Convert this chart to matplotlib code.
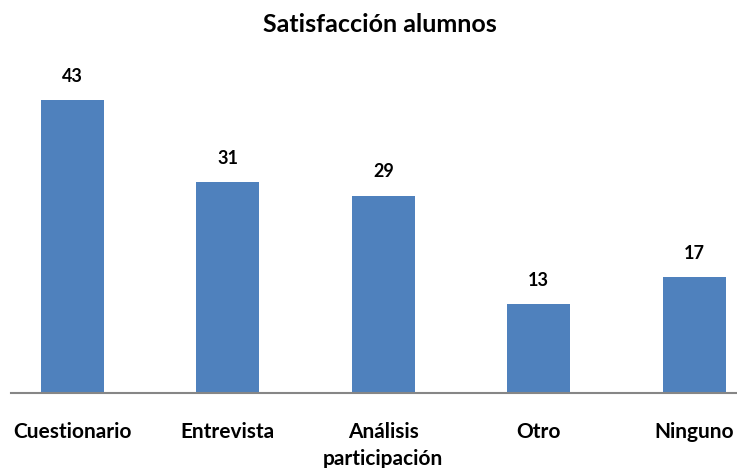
import matplotlib
matplotlib.use("Agg")
import matplotlib.pyplot as plt

categories = ["Cuestionario", "Entrevista", "Análisis\nparticipación", "Otro", "Ninguno"]
values = [43, 31, 29, 13, 17]
title = "Satisfacción alumnos"

plt.rcParams['font.family'] = ['Lato', 'DejaVu Sans']

W, H = 737, 468
fig = plt.figure(figsize=(W / 100, H / 100), dpi=100)
ax = fig.add_axes([11 / W, (H - 393) / H, (W - 11) / W, (393 - 52.5) / H])

x = list(range(len(categories)))
bars = ax.bar(x, values, width=0.405, color="#4F81BD", zorder=2)
ax.set_xlim(-0.396, 4.276)
ax.set_ylim(0, 50)

for xi, v in zip(x, values):
    ax.annotate(str(v), (xi, v), xytext=(0, 11), textcoords="offset points",
                ha="center", va="bottom", fontsize=13, fontweight="bold")

for s in ["top", "right", "left"]:
    ax.spines[s].set_visible(False)
ax.spines["bottom"].set_color("#868686")
ax.spines["bottom"].set_linewidth(1.5)
ax.set_yticks([])
ax.set_xticks(x)
ax.set_xticklabels(categories, fontsize=15, fontweight="bold", va="top", linespacing=1.45)
ax.tick_params(axis="x", length=0, pad=21)

fig.text(380 / W, 1 - 25 / H, title, ha="center", va="center", fontsize=18, fontweight="bold")

fig.savefig("out.png", dpi=100)
